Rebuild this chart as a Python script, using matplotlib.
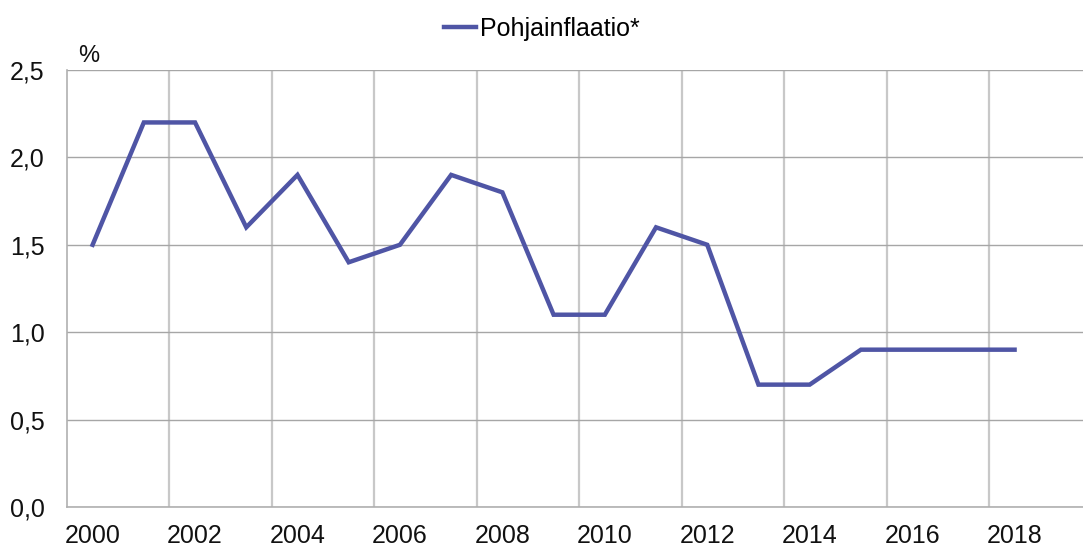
import matplotlib.pyplot as plt
from matplotlib.ticker import FixedLocator

plt.rcParams['font.family'] = ['Liberation Sans', 'DejaVu Sans']

years = list(range(2000, 2019))
core_inflation = [1.5, 2.2, 2.2, 1.6, 1.9, 1.4, 1.5, 1.9, 1.8, 1.1,
                  1.1, 1.6, 1.5, 0.7, 0.7, 0.9, 0.9, 0.9, 0.9]
yticks = [0.0, 0.5, 1.0, 1.5, 2.0, 2.5]
xticks = list(range(2000, 2019, 2))

fig = plt.figure(figsize=(10.83, 5.47), dpi=100)
ax = fig.add_axes([67/1083, 1 - 507/547, 1 - 67/1083, (507 - 70)/547])

ax.plot(years, core_inflation, color='#4F55A5', lw=3.2,
        solid_joinstyle='miter', label='Pohjainflaatio*')

ax.set_xlim(1999.5, 2000 + (1083 - 93) / 51.2)
ax.set_ylim(0, 2.5)
ax.set_yticks(yticks)
ax.set_yticklabels([('%.1f' % v).replace('.', ',') for v in yticks])
ax.set_xticks(xticks)
ax.set_xticklabels([str(y) for y in xticks])
ax.xaxis.set_minor_locator(FixedLocator([y + 1.5 for y in range(2000, 2020, 2)]))

ax.grid(axis='y', which='major', color='#A6A6A6', lw=1.0)
ax.grid(axis='x', which='minor', color='#C8C8C8', lw=1.6)
ax.set_axisbelow(True)

ax.tick_params(axis='both', which='both', length=0, labelsize=18, colors='#111111')
ax.tick_params(axis='y', pad=16)
ax.tick_params(axis='x', pad=12)

for s in ['top', 'right']:
    ax.spines[s].set_visible(False)
for s in ['left', 'bottom']:
    ax.spines[s].set_color('#B0B0B0')
    ax.spines[s].set_linewidth(1.2)

fig.text(78/1083, 1 - 62/547, '%', fontsize=17, color='#111111')

leg = fig.legend(loc='upper center', bbox_to_anchor=(0.5, 1.01), frameon=False,
                 fontsize=18, handlelength=1.3, handletextpad=0.15)

fig.savefig('out.png', dpi=100)
